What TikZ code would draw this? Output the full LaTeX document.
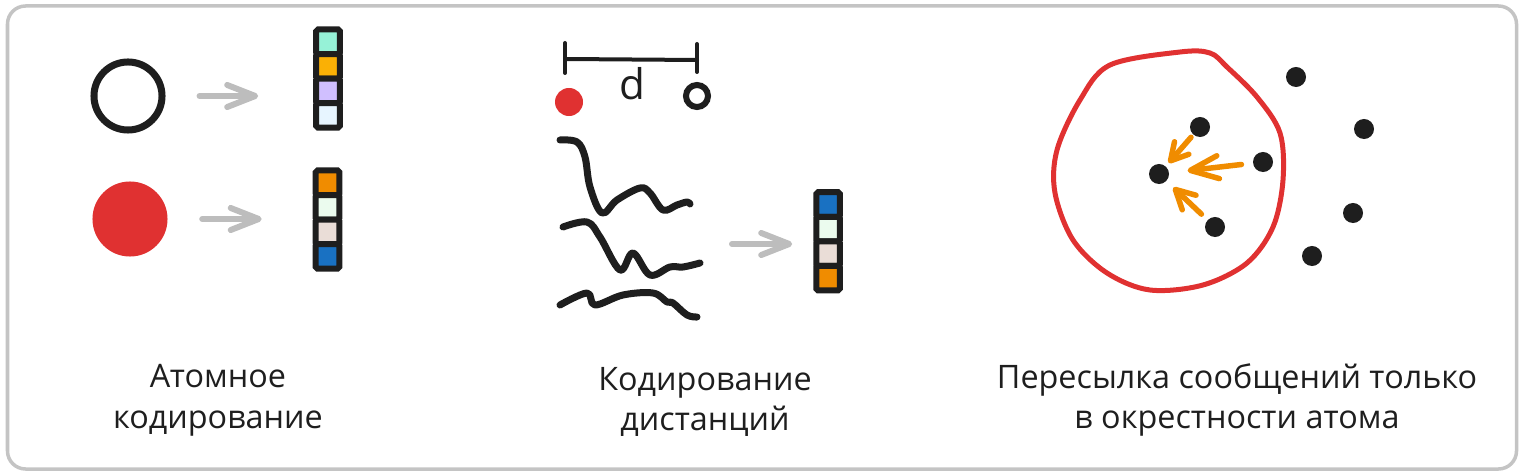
\documentclass[tikz,border=0pt]{standalone}
\usepackage{fontspec}
\setmainfont{Open Sans}
\usetikzlibrary{arrows.meta, positioning}

\definecolor{ink}{HTML}{1E1E1E}
\definecolor{framegray}{HTML}{C4C4C4}
\definecolor{arrowgray}{HTML}{BDBDBD}
\definecolor{atomred}{HTML}{E03131}
\definecolor{msgorange}{HTML}{F08C00}
\definecolor{cteal}{HTML}{96F2D7}
\definecolor{camber}{HTML}{FAB005}
\definecolor{clilac}{HTML}{D0BFFF}
\definecolor{cice}{HTML}{E7F5FF}
\definecolor{cmint}{HTML}{EBFBEE}
\definecolor{crose}{HTML}{EADDD7}
\definecolor{cblue}{HTML}{1971C2}

\tikzset{
  cell/.style={draw=ink, line width=0.06cm, minimum width=0.235cm, minimum height=0.245cm,
    inner sep=0pt, outer sep=0pt, rounded corners=0.5pt, fill=#1},
  garrow/.style={draw=arrowgray, line width=0.06cm, line cap=round,
    -{Straight Barb[length=0.28cm, width=0.22cm, round]}},
  marrow/.style={draw=msgorange, line width=0.055cm, line cap=round,
    -{Straight Barb[length=0.17cm, width=0.19cm, round]}},
  dot/.style={circle, fill=ink, inner sep=0pt, minimum size=0.2cm},
  wiggle/.style={ink, line width=0.07cm, line cap=round, line join=round},
  caption/.style={align=center, text=ink, font=\fontsize{9.2pt}{11.6pt}\selectfont}
}

\begin{document}
\begin{tikzpicture}[x=0.01cm, y=-0.01cm]
  \useasboundingbox (0,0) rectangle (1524,476);
  \draw[framegray, line width=0.035cm, rounded corners=0.18cm] (7.5,6) rectangle (1516.5,469);

  % atom encoding
  \node[circle, draw=ink, line width=0.07cm, minimum size=0.68cm, inner sep=0pt] (atomA) at (128,96) {};
  \node[circle, fill=atomred, minimum size=0.75cm, inner sep=0pt] (atomB) at (130,219) {};

  \node[cell=cteal]  (v1a) at (328,41.75) {};
  \node[cell=camber, below=0pt of v1a] (v1b) {};
  \node[cell=clilac, below=0pt of v1b] (v1c) {};
  \node[cell=cice,   below=0pt of v1c] (v1d) {};

  \node[cell=msgorange] (v2a) at (327.5,182.75) {};
  \node[cell=cmint, below=0pt of v2a] (v2b) {};
  \node[cell=crose, below=0pt of v2b] (v2c) {};
  \node[cell=cblue, below=0pt of v2c] (v2d) {};

  \draw[garrow, shorten <=0.34cm, shorten >=0.58cm] (atomA) -- (atomA -| v1a.west);
  \draw[garrow, shorten <=0.34cm, shorten >=0.54cm] (atomB) -- (atomB -| v2a.west);

  \node[caption] (capA) at (218,400) {Атомное\\кодирование};

  % distance encoding
  \draw[ink, line width=0.04cm, line cap=round] (565,43) -- (565,73);
  \draw[ink, line width=0.04cm, line cap=round] (697,44) -- (697,72);
  \draw[ink, line width=0.04cm, line cap=round] (566,59) -- (697,60);
  \node[text=ink, font=\fontsize{12pt}{12pt}\selectfont] (dlab) at (632,84) {d};
  \node[circle, fill=atomred, minimum size=0.28cm, inner sep=0pt] (near) at (569,102) {};
  \node[circle, draw=ink, line width=0.06cm, minimum size=0.22cm, inner sep=0pt] (far) at (697,96) {};

  \draw[wiggle] plot[smooth, tension=0.6] coordinates {(560,140) (577,142) (585,157) (590,187)
    (602,213) (617,200) (640,188) (650,193) (663,210) (677,205) (687,202) (690,204)};
  \draw[wiggle] plot[smooth, tension=0.6] coordinates {(563,227) (587,222) (600,237) (620,270)
    (633,253) (650,275) (670,267) (683,267) (700,263)};
  \draw[wiggle] plot[smooth, tension=0.6] coordinates {(560,305) (587,293) (595,305) (623,295)
    (653,293) (667,302) (673,303) (687,315) (697,317)};

  \node[cell=cblue] (v3a) at (828,204.5) {};
  \node[cell=cmint, below=0pt of v3a] (v3b) {};
  \node[cell=crose, below=0pt of v3b] (v3c) {};
  \node[cell=msgorange, below=0pt of v3c] (v3d) {};

  \coordinate (curves) at (732,244);
  \draw[garrow, shorten >=0.24cm] (curves) -- (curves -| v3a.west);

  \node[caption] (capB) at (705,402) {Кодирование\\дистанций};

  % message passing
  \draw[atomred, line width=0.05cm, line cap=round, line join=round] plot[smooth cycle, tension=0.55]
    coordinates {(1210,53) (1180,52) (1110,65) (1080,100) (1057,150) (1055,193) (1073,240)
    (1107,273) (1150,290) (1203,285) (1247,263) (1273,227) (1283,180) (1280,133) (1257,97) (1227,67)};

  \node[dot] (c)  at (1159,174) {};
  \node[dot] (n1) at (1200,127) {};
  \node[dot] (n2) at (1263,162) {};
  \node[dot] (n3) at (1215,227) {};
  \node[dot] (f1) at (1296,77) {};
  \node[dot] (f2) at (1364,129) {};
  \node[dot] (f3) at (1353,213) {};
  \node[dot] (f4) at (1312,256) {};

  \draw[marrow, shorten <=0.03cm, shorten >=0.04cm] (n1) -- (c);
  \draw[marrow, -{Straight Barb[length=0.28cm, width=0.23cm, round]},
    shorten <=0.11cm, shorten >=0.18cm] (n2) -- (c);
  \draw[marrow, -{Straight Barb[length=0.19cm, width=0.2cm, round]},
    shorten <=0.08cm, shorten >=0.09cm] (n3) -- (c);

  \node[caption] (capC) at (1237,400) {Пересылка сообщений только\\в окрестности атома};
\end{tikzpicture}
\end{document}
